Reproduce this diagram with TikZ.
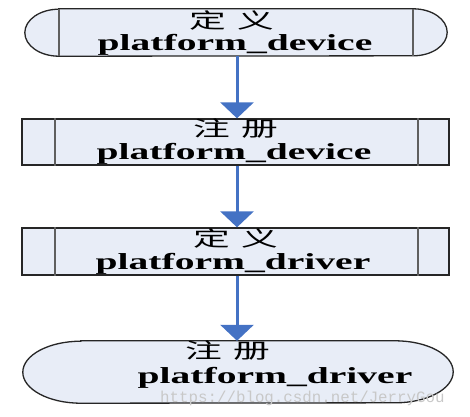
\documentclass[tikz,border=0pt]{standalone}
\usepackage{fontspec}
\setmainfont{Liberation Serif}
\newfontfamily\cjkfont{Noto Sans CJK SC}
\newfontfamily\urlfont{Liberation Mono}
\usetikzlibrary{arrows.meta, backgrounds}
\definecolor{boxfill}{RGB}{232,237,247}
\definecolor{flowblue}{RGB}{68,114,196}
\definecolor{sepgray}{RGB}{95,95,95}
\definecolor{markgray}{RGB}{200,200,200}
\newcommand{\stepname}[1]{\scalebox{1.72}[1]{\fontsize{23}{23}\selectfont\bfseries #1}}
\newcommand{\stepverb}[2]{\scalebox{1.75}[1]{\cjkfont\fontsize{21}{21}\selectfont #1\hspace{0.3em}#2}}

\begin{document}
\begin{tikzpicture}[x=1pt, y=-1pt,
    boxline/.style={draw=black!85, line width=1.3pt, fill=boxfill},
    procbox/.style={boxline, rectangle, minimum width=427pt, inner sep=0pt},
    termbox/.style={rectangle, inner sep=0pt},
    sepline/.style={draw=sepgray, line width=2pt},
    flow/.style={draw=flowblue, line width=3pt, -{Triangle[width=33pt, length=16pt]}},
    verb/.style={inner sep=0pt},
    stepname/.style={inner sep=0pt, anchor=base}]
  \useasboundingbox (0,0) rectangle (470,416);

  % the four steps
  \node[termbox, minimum width=422pt, minimum height=47pt] (defdev) at (236,32.5) {};
  \node[procbox, minimum height=46pt] (regdev) at (235.5,142) {};
  \node[procbox, minimum height=47pt] (defdrv) at (235.5,251.5) {};
  \node[termbox, minimum width=430pt, minimum height=62pt] (regdrv) at (238,372) {};

  % outlines of the rounded steps
  \begin{scope}[on background layer]
    \draw[boxline] ([xshift=34pt]defdev.north west) -- ([xshift=-34pt]defdev.north east)
      arc[start angle=90, end angle=-90, x radius=34pt, y radius=23.5pt]
      -- ([xshift=34pt]defdev.south west)
      arc[start angle=270, end angle=90, x radius=34pt, y radius=23.5pt] -- cycle;
    \draw[boxline] ([xshift=58pt]regdrv.north west) -- ([xshift=-58pt]regdrv.north east)
      arc[start angle=90, end angle=-90, x radius=58pt, y radius=31pt]
      -- ([xshift=58pt]regdrv.south west)
      arc[start angle=270, end angle=90, x radius=58pt, y radius=31pt] -- cycle;
  \end{scope}

  % inner bars
  \draw[sepline] ([xshift=34pt]defdev.north west) -- ([xshift=34pt]defdev.south west);
  \draw[sepline] ([xshift=-34pt]defdev.north east) -- ([xshift=-34pt]defdev.south east);
  \draw[sepline] ([xshift=34pt]regdev.north west) -- ([xshift=34pt]regdev.south west);
  \draw[sepline] ([xshift=-32pt]regdev.north east) -- ([xshift=-32pt]regdev.south east);
  \draw[sepline] ([xshift=34pt]defdrv.north west) -- ([xshift=34pt]defdrv.south west);
  \draw[sepline] ([xshift=-32pt]defdrv.north east) -- ([xshift=-32pt]defdrv.south east);

  % texts
  \node[verb] (defdev verb) at (232,20.5) {\stepverb{定}{义}};
  \node[stepname] (defdev name) at (235,50) {\stepname{platform\_device}};
  \node[verb] (regdev verb) at (236,128.5) {\stepverb{注}{册}};
  \node[stepname] (regdev name) at (234,159) {\stepname{platform\_device}};
  \node[verb] (defdrv verb) at (236,238.5) {\stepverb{定}{义}};
  \node[stepname] (defdrv name) at (233,269) {\stepname{platform\_driver}};
  \node[verb] (regdrv verb) at (228,350.5) {\stepverb{注}{册}};
  \node[stepname] (regdrv name) at (275,383) {\stepname{platform\_driver}};
  \node[anchor=base west, inner sep=0pt, text=markgray,
        font=\urlfont\fontsize{15.8}{15.8}\selectfont] (mark) at (160,402)
        {https://blog.csdn.net/JerryGou};

  % arrows
  \draw[flow] ([xshift=1pt]defdev.south) -- ([xshift=1pt]defdev.south |- regdev.north);
  \draw[flow] ([xshift=1.5pt]regdev.south) -- ([xshift=1.5pt]regdev.south |- defdrv.north);
  \draw[flow] ([xshift=1.5pt]defdrv.south) -- ([xshift=1.5pt]defdrv.south |- regdrv.north);
\end{tikzpicture}
\end{document}
